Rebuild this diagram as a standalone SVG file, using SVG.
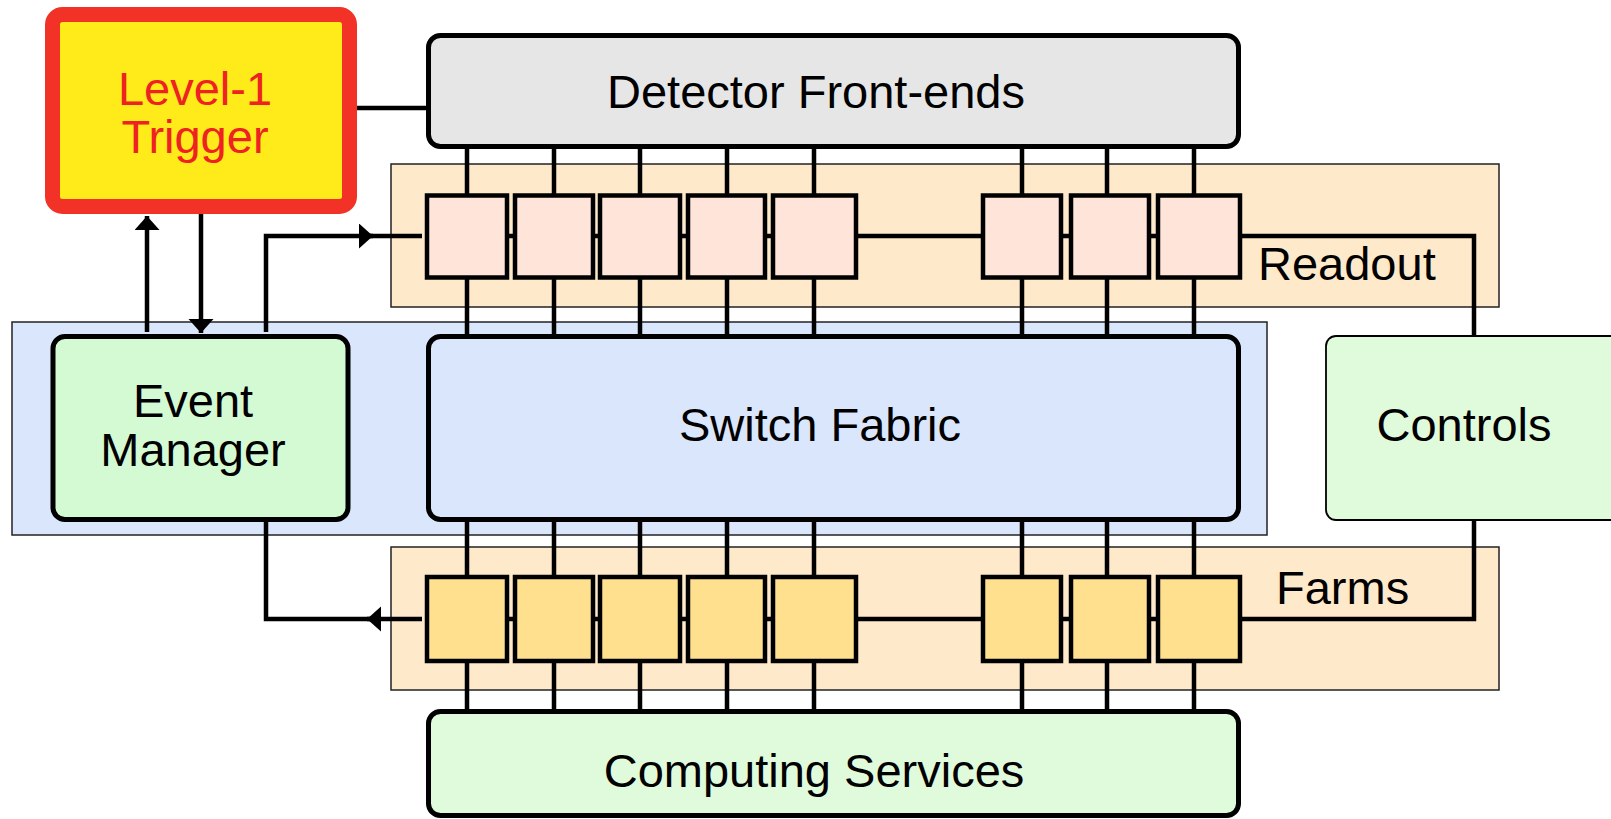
<svg xmlns="http://www.w3.org/2000/svg" width="1611" height="819" viewBox="0 0 1611 819">
<style>
text{font-family:"Liberation Sans",Arial,sans-serif;font-size:47px;fill:#000}
.bg{stroke:#222;stroke-width:1.5}
.wire{fill:none;stroke:#000;stroke-width:4.5}
.mod{stroke:#000;stroke-width:4.5}
.ro{fill:#FFE4DA}
.fm{fill:#FFE08F}
.main{stroke:#000;stroke-width:5}
</style>
<defs>
<marker id="ah" markerUnits="userSpaceOnUse" markerWidth="16" markerHeight="26" refX="14" refY="12.5" orient="auto">
<path d="M0,0 L14,12.5 L0,25 z" fill="#000"/>
</marker>
</defs>
<g id="backgrounds">
<rect class="bg" x="391" y="164" width="1108" height="143" fill="#FFE9CB"/>
<rect class="bg" x="12" y="322" width="1255" height="213" fill="#DAE6FC"/>
<rect class="bg" x="391" y="547" width="1108" height="143" fill="#FFE9CB"/>
</g>
<g id="connectors">
<path class="wire" d="M357,108 H430"/>
<path class="wire" d="M467,149 V336 M554,149 V336 M640,149 V336 M727,149 V336 M814,149 V336 M1022,149 V336 M1107,149 V336 M1194,149 V336"/>
<path class="wire" d="M467,520 V710 M554,520 V710 M640,520 V710 M727,520 V710 M814,520 V710 M1022,520 V710 M1107,520 V710 M1194,520 V710"/>
<path class="wire" d="M467,236 H1240"/>
<path class="wire" d="M467,619 H1240"/>
<path class="wire" d="M1240,236 H1474 V336"/>
<path class="wire" d="M1474,520 V619 H1240"/>
<path class="wire" d="M147,332 V216" marker-end="url(#ah)"/>
<path class="wire" d="M201,214 V333" marker-end="url(#ah)"/>
<path class="wire" d="M266,332 V236 H373" marker-end="url(#ah)"/>
<path class="wire" d="M362,236 H422"/>
<path class="wire" d="M422,619 H367" marker-end="url(#ah)"/>
<path class="wire" d="M266,522 V619 H380"/>
</g>
<g id="level1-trigger">
<rect x="52.5" y="14.5" width="297" height="192" rx="10" fill="#FFEA1A" stroke="#F23127" stroke-width="15"/>
<text x="195" y="105" text-anchor="middle" style="fill:#EE2222">Level-1</text>
<text x="195" y="153" text-anchor="middle" style="fill:#EE2222">Trigger</text>
</g>
<g id="detector-front-ends">
<rect class="main" x="428.5" y="35.5" width="810" height="111" rx="12" fill="#E6E6E6"/>
<text x="816" y="108" text-anchor="middle">Detector Front-ends</text>
</g>
<g id="readout">
<rect class="mod ro" x="427" y="195.5" width="80" height="82"/>
<rect class="mod ro" x="515" y="195.5" width="78" height="82"/>
<rect class="mod ro" x="600" y="195.5" width="80" height="82"/>
<rect class="mod ro" x="688" y="195.5" width="77" height="82"/>
<rect class="mod ro" x="773" y="195.5" width="83" height="82"/>
<rect class="mod ro" x="983" y="195.5" width="78" height="82"/>
<rect class="mod ro" x="1071" y="195.5" width="78" height="82"/>
<rect class="mod ro" x="1158" y="195.5" width="82" height="82"/>
<text x="1258" y="280">Readout</text>
</g>
<g id="event-manager">
<rect class="main" x="53" y="336.5" width="295" height="183" rx="12" fill="#D4FAD4"/>
<text x="193" y="417" text-anchor="middle">Event</text>
<text x="193" y="466" text-anchor="middle">Manager</text>
</g>
<g id="switch-fabric">
<rect class="main" x="428.5" y="336.5" width="810" height="183" rx="12" fill="#DAE6FC"/>
<text x="820" y="441" text-anchor="middle">Switch Fabric</text>
</g>
<g id="controls">
<rect x="1326" y="336" width="310" height="184" rx="10" fill="#E0FADC" stroke="#000" stroke-width="1.8"/>
<text x="1464" y="441" text-anchor="middle">Controls</text>
</g>
<g id="farms">
<rect class="mod fm" x="427" y="577" width="80" height="84"/>
<rect class="mod fm" x="515" y="577" width="78" height="84"/>
<rect class="mod fm" x="600" y="577" width="80" height="84"/>
<rect class="mod fm" x="688" y="577" width="77" height="84"/>
<rect class="mod fm" x="773" y="577" width="83" height="84"/>
<rect class="mod fm" x="983" y="577" width="78" height="84"/>
<rect class="mod fm" x="1071" y="577" width="78" height="84"/>
<rect class="mod fm" x="1158" y="577" width="82" height="84"/>
<text x="1276" y="604">Farms</text>
</g>
<g id="computing-services">
<rect class="main" x="428.5" y="711.5" width="810" height="104" rx="12" fill="#E0FADC"/>
<text x="814" y="787" text-anchor="middle">Computing Services</text>
</g>
</svg>
